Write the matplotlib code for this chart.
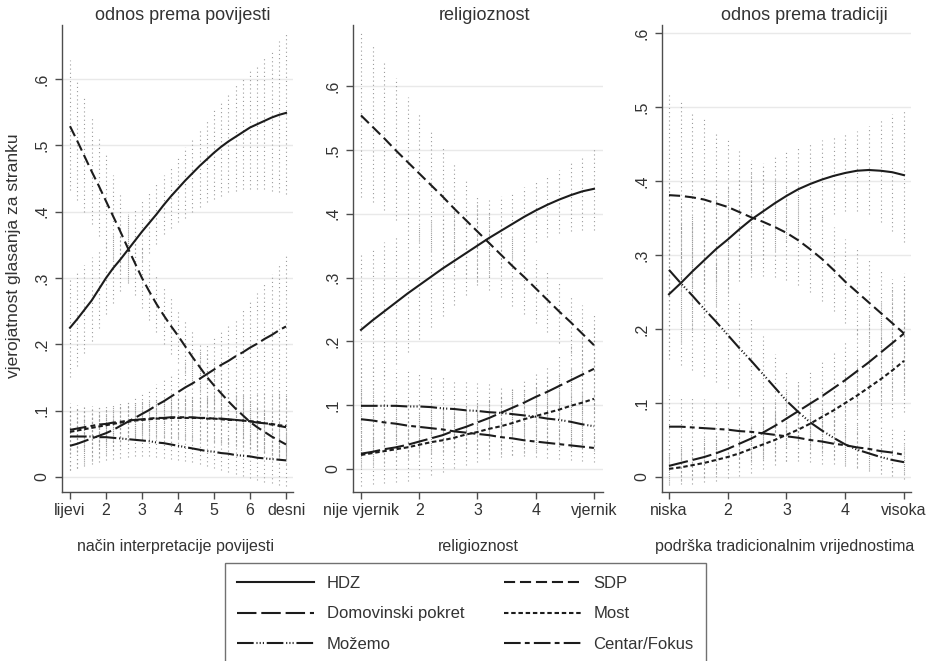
import matplotlib
matplotlib.use("Agg")
import matplotlib.pyplot as plt

plt.rcParams['font.family'] = ['Liberation Sans', 'DejaVu Sans']
plt.rcParams['lines.scale_dashes'] = False

# ---- data: predicted probabilities with 95% CI ----
parties = ["HDZ", "Domovinski pokret", "Možemo", "SDP", "Most", "Centar/Fokus"]

# panel 1: odnos prema povijesti
hist_x = [1.0, 1.2, 1.4, 1.6, 1.8, 2.0, 2.2, 2.4, 2.6, 2.8, 3.0, 3.2, 3.4, 3.6, 3.8, 4.0,
          4.2, 4.4, 4.6, 4.8, 5.0, 5.2, 5.4, 5.6, 5.8, 6.0, 6.2, 6.4, 6.6, 6.8, 7.0]
hist_hdz = [.225, .238, .252, .266, .283, .300, .315, .328, .342, .356, .370, .383, .396, .410, .423, .435,
            .447, .458, .469, .479, .489, .498, .506, .513, .520, .527, .532, .537, .542, .546, .549]
hist_hdz_lo = [.150, .168, .187, .205, .225, .245, .263, .280, .296, .312, .325, .338, .352, .366, .376, .384,
               .391, .400, .407, .414, .419, .424, .429, .432, .434, .434, .434, .434, .432, .429, .427]
hist_hdz_hi = [.300, .310, .320, .331, .343, .355, .368, .382, .396, .405, .417, .429, .442, .456, .468, .482,
               .497, .510, .525, .538, .553, .566, .580, .591, .603, .613, .622, .634, .644, .658, .669]
hist_sdp = [.529, .507, .484, .461, .439, .416, .393, .370, .346, .323, .300, .280, .261, .244, .228, .213,
            .197, .181, .166, .151, .138, .126, .114, .103, .093, .083, .075, .068, .061, .055, .049]
hist_sdp_lo = [.433, .418, .400, .381, .363, .345, .328, .310, .292, .274, .255, .236, .218, .201, .186, .172,
               .157, .142, .128, .115, .103, .092, .081, .071, .062, .053, .045, .039, .033, .027, .020]
hist_sdp_hi = [.629, .598, .571, .543, .513, .485, .455, .427, .400, .372, .346, .325, .305, .287, .270, .254,
               .237, .220, .204, .188, .174, .161, .148, .136, .125, .115, .106, .098, .091, .085, .080]
hist_dp = [.047, .050, .054, .058, .062, .066, .071, .077, .083, .089, .095, .101, .108, .114, .121, .128,
           .135, .141, .148, .155, .162, .169, .175, .182, .188, .195, .201, .208, .214, .221, .227]
hist_dp_lo = [.010, .014, .019, .024, .030, .035, .041, .047, .054, .060, .066, .071, .077, .082, .087, .092,
              .097, .101, .105, .109, .113, .116, .119, .121, .123, .124, .125, .125, .124, .122, .118]
hist_dp_hi = [.085, .087, .089, .092, .095, .098, .102, .107, .113, .119, .126, .133, .140, .148, .156, .164,
              .173, .182, .191, .200, .210, .219, .229, .240, .252, .265, .278, .291, .306, .321, .336]
hist_most = [.068, .070, .072, .074, .076, .078, .080, .082, .083, .085, .086, .087, .088, .088, .089, .089,
             .089, .089, .089, .088, .088, .087, .086, .086, .085, .084, .083, .081, .080, .078, .077]
hist_most_lo = [.035, .038, .041, .044, .047, .050, .052, .054, .056, .057, .058, .059, .059, .059, .059, .058,
                .057, .056, .055, .054, .053, .051, .049, .047, .045, .043, .040, .036, .033, .030, .027]
hist_most_hi = [.101, .102, .103, .104, .105, .106, .108, .110, .111, .113, .114, .115, .117, .118, .119, .120,
                .121, .122, .123, .123, .124, .124, .124, .125, .125, .125, .126, .126, .127, .127, .127]
hist_cf = [.071, .073, .075, .077, .079, .080, .082, .083, .085, .086, .087, .088, .089, .089, .090, .090,
           .090, .090, .089, .089, .088, .088, .087, .086, .085, .084, .082, .081, .079, .077, .075]
hist_cf_lo = [.040, .043, .046, .049, .052, .054, .056, .058, .060, .061, .062, .062, .062, .062, .061, .061,
              .060, .059, .057, .056, .054, .052, .050, .048, .046, .044, .041, .038, .035, .032, .029]
hist_cf_hi = [.104, .105, .106, .107, .108, .109, .110, .111, .112, .113, .114, .115, .116, .117, .118, .119,
              .120, .121, .121, .122, .122, .123, .123, .123, .123, .123, .123, .123, .122, .122, .121]
hist_moz = [.061, .061, .061, .061, .060, .060, .059, .058, .057, .056, .055, .054, .052, .051, .049, .047,
            .045, .043, .041, .039, .038, .036, .035, .033, .032, .031, .029, .028, .027, .026, .025]
hist_moz_lo = [.011, .014, .017, .020, .023, .025, .027, .029, .030, .031, .031, .031, .030, .029, .027, .026,
               .024, .022, .020, .017, .014, .011, .008, .005, .002, -.002, -.004, -.007, -.009, -.012, -.014]
hist_moz_hi = [.111, .108, .105, .102, .097, .095, .091, .087, .084, .081, .079, .077, .074, .073, .071, .068,
               .066, .064, .062, .061, .062, .061, .062, .061, .062, .064, .062, .063, .063, .064, .064]
hist_ticks = [1, 2, 3, 4, 5, 6, 7]
hist_ticklabels = ["lijevi", "2", "3", "4", "5", "6", "desni"]

# panel 2: religioznost
rel_x = [1.0, 1.2, 1.4, 1.6, 1.8, 2.0, 2.2, 2.4, 2.6, 2.8, 3.0, 3.2, 3.4, 3.6, 3.8, 4.0,
         4.2, 4.4, 4.6, 4.8, 5.0]
rel_hdz = [.218, .233, .247, .261, .275, .288, .301, .314, .326, .338, .350, .362, .373, .384, .395, .405,
           .414, .422, .429, .435, .439]
rel_hdz_lo = [.105, .125, .145, .165, .184, .203, .222, .240, .257, .273, .288, .302, .316, .330, .343, .355,
              .364, .370, .373, .374, .374]
rel_hdz_hi = [.335, .345, .355, .364, .373, .381, .389, .396, .403, .409, .415, .421, .427, .434, .442, .450,
              .459, .468, .479, .492, .505]
rel_sdp = [.554, .536, .518, .499, .481, .463, .445, .427, .408, .390, .372, .354, .336, .318, .301, .283,
           .265, .247, .230, .212, .194]
rel_sdp_lo = [.426, .418, .405, .390, .373, .357, .343, .330, .318, .305, .293, .281, .269, .256, .243, .229,
              .214, .198, .182, .165, .147]
rel_sdp_hi = [.685, .662, .636, .612, .583, .557, .531, .505, .479, .452, .426, .404, .383, .364, .345, .327,
              .309, .291, .273, .257, .243]
rel_dp = [.024, .027, .031, .034, .038, .043, .048, .053, .060, .066, .073, .080, .088, .096, .104, .113,
          .121, .130, .139, .148, .157]
rel_dp_lo = [.003, .006, .009, .012, .016, .020, .024, .029, .034, .040, .046, .052, .058, .064, .070, .075,
             .079, .083, .086, .088, .090]
rel_dp_hi = [.045, .048, .053, .057, .062, .067, .073, .078, .085, .092, .100, .108, .118, .128, .138, .150,
             .163, .177, .192, .208, .225]
rel_most = [.022, .025, .028, .031, .034, .038, .042, .045, .049, .054, .058, .063, .067, .072, .078, .083,
            .088, .093, .099, .104, .110]
rel_most_lo = [-.026, -.024, -.022, -.020, -.018, -.014, -.010, -.005, .002, .006, .011, .015, .019, .022, .025,
               .028, .031, .034, .037, .040, .043]
rel_most_hi = [.070, .074, .078, .082, .086, .090, .094, .095, .096, .102, .105, .111, .115, .122, .131, .138,
               .145, .152, .161, .168, .177]
rel_moz = [.099, .099, .099, .099, .098, .098, .097, .095, .094, .092, .091, .089, .088, .086, .084, .082,
           .079, .077, .074, .070, .067]
rel_moz_lo = [.045, .047, .049, .051, .053, .055, .056, .056, .056, .056, .055, .054, .053, .051, .048, .045,
              .042, .039, .035, .031, .028]
rel_moz_hi = [.165, .162, .159, .156, .153, .150, .147, .144, .141, .138, .135, .133, .131, .129, .127, .125,
              .123, .121, .119, .117, .115]
rel_cf = [.078, .076, .073, .071, .068, .066, .064, .062, .059, .057, .055, .053, .050, .048, .045, .043,
          .041, .039, .037, .035, .033]
rel_cf_lo = [.030, .030, .029, .029, .028, .028, .027, .027, .026, .026, .025, .024, .023, .022, .020, .019,
             .017, .016, .014, .012, .011]
rel_cf_hi = [.128, .123, .118, .113, .108, .104, .101, .097, .093, .089, .086, .082, .078, .075, .071, .068,
             .066, .063, .061, .058, .056]
rel_ticks = [1, 2, 3, 4, 5]
rel_ticklabels = ["nije vjernik", "2", "3", "4", "vjernik"]

# panel 3: odnos prema tradiciji
trad_x = [1.0, 1.2, 1.4, 1.6, 1.8, 2.0, 2.2, 2.4, 2.6, 2.8, 3.0, 3.2, 3.4, 3.6, 3.8, 4.0,
          4.2, 4.4, 4.6, 4.8, 5.0]
trad_hdz = [.247, .262, .278, .293, .308, .321, .335, .348, .359, .370, .380, .389, .396, .402, .407, .411,
            .414, .415, .414, .412, .408]
trad_hdz_lo = [.165, .182, .199, .216, .233, .249, .265, .280, .294, .307, .319, .330, .340, .348, .355, .360,
               .360, .355, .345, .333, .318]
trad_hdz_hi = [.330, .343, .356, .369, .381, .393, .404, .415, .425, .434, .441, .447, .451, .455, .459, .463,
               .468, .475, .483, .491, .498]
trad_sdp = [.381, .380, .378, .375, .370, .365, .358, .351, .345, .338, .330, .320, .308, .295, .280, .264,
            .250, .236, .222, .208, .194]
trad_sdp_lo = [.245, .252, .258, .262, .265, .268, .270, .271, .272, .270, .266, .259, .250, .238, .224, .208,
               .193, .178, .164, .149, .134]
trad_sdp_hi = [.518, .507, .495, .484, .468, .455, .440, .428, .415, .403, .392, .380, .367, .353, .338, .322,
               .308, .294, .280, .267, .255]
trad_moz = [.280, .262, .245, .227, .210, .192, .174, .157, .139, .121, .103, .088, .074, .063, .053, .044,
            .037, .032, .027, .023, .020]
trad_moz_lo = [.160, .152, .144, .136, .128, .120, .110, .099, .088, .076, .061, .050, .040, .032, .024, .017,
               .012, .008, .004, .001, -.003]
trad_moz_hi = [.400, .372, .346, .318, .292, .264, .238, .215, .190, .166, .145, .126, .108, .094, .082, .071,
               .062, .056, .050, .045, .043]
trad_dp = [.015, .019, .023, .027, .032, .038, .045, .052, .060, .069, .079, .089, .099, .109, .120, .131,
           .143, .155, .168, .181, .194]
trad_dp_lo = [-.008, -.006, -.003, .000, .004, .009, .014, .020, .026, .033, .040, .048, .055, .063, .070, .078,
              .085, .092, .099, .106, .112]
trad_dp_hi = [.038, .044, .049, .054, .060, .067, .076, .084, .094, .105, .118, .130, .143, .155, .170, .184,
              .201, .218, .238, .257, .276]
trad_most = [.011, .013, .016, .019, .023, .027, .032, .038, .044, .050, .057, .064, .072, .081, .090, .100,
             .110, .121, .132, .144, .157]
trad_most_lo = [-.011, -.010, -.009, -.007, -.005, -.002, .002, .006, .011, .016, .021, .027, .033, .040, .047,
                .054, .061, .068, .075, .081, .088]
trad_most_hi = [.033, .036, .041, .045, .051, .056, .062, .070, .077, .084, .093, .101, .111, .122, .133, .146,
                .159, .174, .189, .207, .226]
trad_cf = [.068, .068, .067, .066, .065, .064, .062, .061, .059, .057, .055, .053, .050, .048, .045, .043,
           .040, .038, .035, .033, .030]
trad_cf_lo = [.025, .026, .026, .026, .026, .026, .025, .025, .024, .023, .022, .021, .020, .018, .017, .015,
              .013, .011, .009, .007, .005]
trad_cf_hi = [.111, .110, .108, .106, .104, .102, .099, .097, .094, .091, .088, .085, .082, .079, .076, .074,
              .072, .070, .068, .067, .066]
trad_ticks = [1, 2, 3, 4, 5]
trad_ticklabels = ["niska", "2", "3", "4", "visoka"]

y_ticks = [0, .1, .2, .3, .4, .5, .6]
y_ticklabels = ["0", ".1", ".2", ".3", ".4", ".5", ".6"]

# ---- styles ----
LINE_COLOR = "#1c1c1c"
CI_COLOR = "#9c9c9c"
TEXT_COLOR = "#333333"
AXIS_COLOR = "#4d4d4d"
line_dashes = {
    "HDZ": None,
    "Domovinski pokret": (14, 3.5),
    "Možemo": (12, 2, 0.8, 1.5, 0.8, 1.5, 0.8, 2),
    "SDP": (8, 3.5),
    "Most": (3.2, 2),
    "Centar/Fokus": (12, 3, 3.5, 3),
}

panels = [
    dict(x=hist_x, xlim=(0.778, 7.194), ylim=(-0.0227, 0.6816),
         ticks=hist_ticks, ticklabels=hist_ticklabels,
         rect=(62, 293), series={
             "HDZ": (hist_hdz, hist_hdz_lo, hist_hdz_hi),
             "Domovinski pokret": (hist_dp, hist_dp_lo, hist_dp_hi),
             "Možemo": (hist_moz, hist_moz_lo, hist_moz_hi),
             "SDP": (hist_sdp, hist_sdp_lo, hist_sdp_hi),
             "Most": (hist_most, hist_most_lo, hist_most_hi),
             "Centar/Fokus": (hist_cf, hist_cf_lo, hist_cf_hi)}),
    dict(x=rel_x, xlim=(0.863, 5.155), ylim=(-0.036, 0.6956),
         ticks=rel_ticks, ticklabels=rel_ticklabels,
         rect=(353, 603), series={
             "HDZ": (rel_hdz, rel_hdz_lo, rel_hdz_hi),
             "Domovinski pokret": (rel_dp, rel_dp_lo, rel_dp_hi),
             "Možemo": (rel_moz, rel_moz_lo, rel_moz_hi),
             "SDP": (rel_sdp, rel_sdp_lo, rel_sdp_hi),
             "Most": (rel_most, rel_most_lo, rel_most_hi),
             "Centar/Fokus": (rel_cf, rel_cf_lo, rel_cf_hi)}),
    dict(x=trad_x, xlim=(0.881, 5.119), ylim=(-0.0203, 0.611),
         ticks=trad_ticks, ticklabels=trad_ticklabels,
         rect=(662, 911), series={
             "HDZ": (trad_hdz, trad_hdz_lo, trad_hdz_hi),
             "Domovinski pokret": (trad_dp, trad_dp_lo, trad_dp_hi),
             "Možemo": (trad_moz, trad_moz_lo, trad_moz_hi),
             "SDP": (trad_sdp, trad_sdp_lo, trad_sdp_hi),
             "Most": (trad_most, trad_most_lo, trad_most_hi),
             "Centar/Fokus": (trad_cf, trad_cf_lo, trad_cf_hi)}),
]

W, H = 929, 661
fig = plt.figure(figsize=(W / 100, H / 100), dpi=100)

handles = {}
for p in panels:
    left, right = p["rect"]
    ax = fig.add_axes([left / W, 1 - 492 / H, (right - left) / W, (492 - 25) / H])
    for name in parties:
        est, lo, hi = p["series"][name]
        ax.vlines(p["x"], lo, hi, colors=CI_COLOR, linewidth=0.8,
                  linestyles=[(0, (0.8, 2.2))], zorder=1)
    for name in parties:
        est, lo, hi = p["series"][name]
        ln, = ax.plot(p["x"], est, color=LINE_COLOR, linewidth=1.5, zorder=3)
        if line_dashes[name] is not None:
            ln.set_dashes(line_dashes[name])
        handles[name] = ln
    ax.set_xlim(*p["xlim"])
    ax.set_ylim(*p["ylim"])
    ax.set_xticks(p["ticks"])
    ax.set_xticklabels(p["ticklabels"])
    ax.set_yticks(y_ticks)
    ax.set_yticklabels(y_ticklabels, rotation=90, va="center")
    ax.yaxis.grid(True, color="#e9e9e9", linewidth=1.0)
    ax.set_axisbelow(True)
    for s in ["top", "right"]:
        ax.spines[s].set_visible(False)
    for s in ["left", "bottom"]:
        ax.spines[s].set_color(AXIS_COLOR)
        ax.spines[s].set_linewidth(1.0)
    ax.tick_params(axis="both", length=5, width=1, color=AXIS_COLOR,
                   labelsize=11.5, labelcolor=TEXT_COLOR)
    ax.tick_params(axis="x", pad=3)
    ax.tick_params(axis="y", pad=4)

# panel titles and axis titles
titles = ["odnos prema povijesti", "religioznost", "odnos prema tradiciji"]
title_x = [183, 485, 804]
xlabels = ["način interpretacije povijesti", "religioznost", "podrška tradicionalnim vrijednostima"]
xlabel_x = [176, 478, 785]
for t, tx in zip(titles, title_x):
    fig.text(tx / W, 1 - 15 / H, t, ha="center", va="center", fontsize=13, color=TEXT_COLOR)
for t, tx in zip(xlabels, xlabel_x):
    fig.text(tx / W, 1 - 547 / H, t, ha="center", va="center", fontsize=11.5, color=TEXT_COLOR)
fig.text(14 / W, 1 - 256 / H, "vjerojatnost glasanja za stranku", rotation=90,
         ha="center", va="center", fontsize=12.5, color=TEXT_COLOR)

leg = fig.legend([handles[n] for n in parties], parties, ncol=2,
                 loc="upper left", bbox_to_anchor=(225 / W, 1 - 563 / H),
                 frameon=True, fancybox=False, fontsize=12, handlelength=4.6,
                 handletextpad=0.75, columnspacing=2.4, labelspacing=0.95,
                 borderpad=0.75, borderaxespad=0)
leg.get_frame().set_edgecolor(AXIS_COLOR)
leg.get_frame().set_linewidth(1.0)
for txt in leg.get_texts():
    txt.set_color(TEXT_COLOR)

fig.savefig("out.png", dpi=100)
